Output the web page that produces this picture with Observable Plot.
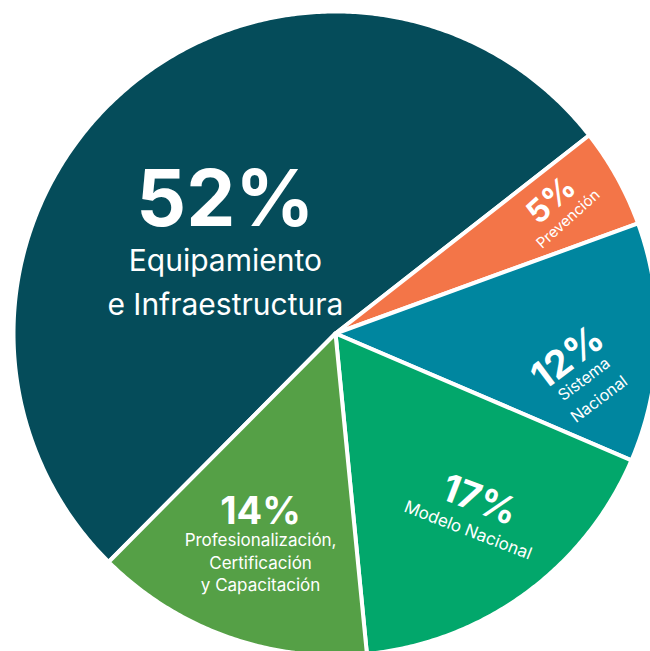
<!DOCTYPE html>
<html><head><meta charset="utf-8">
<script src="https://cdn.jsdelivr.net/npm/d3@7"></script>
<script src="https://cdn.jsdelivr.net/npm/@observablehq/plot@0.6"></script>
<style>
html,body{margin:0;padding:0;background:#fff;}
#chart svg{display:block;}
</style>
</head><body><div id="chart"></div>
<script>
// ---- data ----
const categories = [
  "Equipamiento e Infraestructura",
  "Prevención",
  "Sistema Nacional",
  "Modelo Nacional",
  "Profesionalización, Certificación y Capacitación"
];
const values = [52, 5, 12, 17, 14];
const percentLabels = ["52%", "5%", "12%", "17%", "14%"];
const nameLines = [
  ["Equipamiento", "e Infraestructura"],
  ["Prevención"],
  ["Sistema", "Nacional"],
  ["Modelo Nacional"],
  ["Profesionalización,", "Certificación", "y Capacitación"]
];
const colors = ["#054c5a", "#f37548", "#00869f", "#02a76b", "#55a046"];

// ---- layout / style ----
const W = 650, H = 651, R = 320, CX = 335, CY = 333;
const startDeg = -135.2;
const labelStyle = [
  {r: 0.418, turn: -13.8, rotate: 0,   pctSize: 78, nameSize: 30, spacing: 1.3, offsets: [-57, 3.4, 47.4]},
  {r: 0.800, turn: 0,     rotate: -42, pctSize: 32, nameSize: 15, spacing: 0.5, offsets: [-12, 13]},
  {r: 0.788, turn: 8.7,   rotate: -37, pctSize: 38, nameSize: 16, spacing: 0.5, offsets: [-26, 1, 26]},
  {r: 0.714, turn: -1,    rotate: 21,  pctSize: 38, nameSize: 17, spacing: 0.5, offsets: [-16, 16]},
  {r: 0.712, turn: -0.4,  rotate: 0,   pctSize: 38, nameSize: 17, spacing: 0.5, offsets: [-37, -8.4, 14.6, 36.6]}
];

const rad = Math.PI / 180;
const arcs = d3.pie().sort(null).value(d => d)
  .startAngle(startDeg * rad).endAngle((startDeg + 360) * rad)(values);

// slice polygons in data units (radius 1 = R px)
const rr = 1 + 2 / R;
const slicePts = [];
arcs.forEach((a, i) => {
  const cat = categories[i];
  slicePts.push({cat, x: 0, y: 0});
  const n = Math.max(2, Math.ceil((a.endAngle - a.startAngle) / (0.5 * rad)));
  for (let k = 0; k <= n; k++) {
    const t = a.startAngle + (a.endAngle - a.startAngle) * k / n;
    slicePts.push({cat, x: rr * Math.sin(t), y: rr * Math.cos(t)});
  }
});

// labels
const pctTexts = [], nameTexts = [];
arcs.forEach((a, i) => {
  const s = labelStyle[i];
  const mid = (a.startAngle + a.endAngle) / 2 + s.turn * rad;
  const px = s.r * Math.sin(mid), py = s.r * Math.cos(mid);
  const rot = s.rotate * rad;
  const place = (oy) => ({x: px + oy * (-Math.sin(rot)) / R, y: py - oy * Math.cos(rot) / R});
  pctTexts.push({...place(s.offsets[0]), text: percentLabels[i], size: s.pctSize, rotate: s.rotate});
  nameLines[i].forEach((line, j) => {
    nameTexts.push({...place(s.offsets[j + 1]), text: line, size: s.nameSize, rotate: s.rotate, spacing: s.spacing});
  });
});

const chart = Plot.plot({
  width: W, height: H,
  margin: 0,
  x: {domain: [-CX / R, (W - CX) / R], range: [0, W], axis: null},
  y: {domain: [-(H - CY) / R, CY / R], range: [H, 0], axis: null},
  color: {domain: categories, range: colors},
  style: {fontFamily: "Inter, 'Open Sans', sans-serif", background: "#fff"},
  marks: [
    Plot.line(slicePts, {x: "x", y: "y", z: "cat", fill: "cat", stroke: "#fff",
      strokeWidth: 4, strokeLinejoin: "round", curve: "linear-closed"}),
    Plot.text(pctTexts, {x: "x", y: "y", text: "text", fontSize: "size", rotate: "rotate",
      fill: "#fff", fontWeight: 700, ariaLabel: "pct"}),
    Plot.text(nameTexts, {x: "x", y: "y", text: "text", fontSize: "size", rotate: "rotate",
      fill: "#fff", fontWeight: 400, ariaLabel: "names"})
  ]
});
document.getElementById("chart").appendChild(chart);
chart.querySelectorAll('g[aria-label="names"] text').forEach((t, k) => t.setAttribute("letter-spacing", nameTexts[k].spacing));
chart.querySelectorAll('g[aria-label="pct"] text').forEach(t => t.setAttribute("letter-spacing", "1"));
</script>
</body></html>
